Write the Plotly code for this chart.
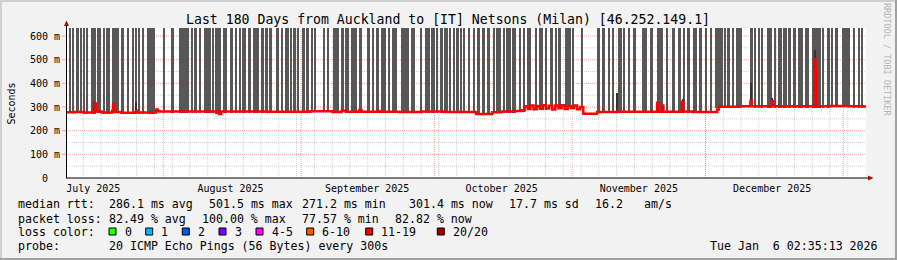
import numpy as np
import pandas as pd
import plotly.graph_objects as go

# ---------------- data ----------------
START = pd.Timestamp("2025-07-10 02:35:13")
END = pd.Timestamp("2026-01-06 02:35:13")

TITLE = "Last 180 Days from Auckland to [IT] Netsons (Milan) [46.252.149.1]"

MONTH_LABELS = ["July 2025", "August 2025", "September 2025", "October 2025",
                "November 2025", "December 2025"]
MONTH_LABEL_AT = ["2025-07-16 06:00", "2025-08-16 03:00", "2025-09-15 21:00",
                  "2025-10-16 03:00", "2025-11-16 00:00", "2025-12-16 00:00"]
MONTH_STARTS = ["2025-08-01", "2025-09-01", "2025-10-01", "2025-11-01",
                "2025-12-01", "2026-01-01"]

Y_TICKS = [0, 100, 200, 300, 400, 500, 600]
Y_TICK_TEXT = ["0\u00a0\u00a0", "100 m", "200 m", "300 m", "400 m", "500 m", "600 m"]

# smoke (loss) bars: start / end, in days since START
SMOKE_START_DAY = [
    0.83, 1.58, 2.25, 3.31, 3.83, 4.50, 5.56, 6.98, 8.26, 9.00, 9.68, 10.35, 12.38, 13.73,
    14.85, 15.53, 16.20, 17.10, 18.16, 22.05, 23.56, 25.43, 28.06, 28.80, 29.93, 31.05,
    32.85, 33.68, 35.26,
    36.00, 36.90, 38.03, 38.93, 39.60, 40.95, 42.08, 43.20, 43.88, 44.78, 45.68, 47.25,
    48.38, 49.28, 50.40, 51.08, 51.98, 53.10, 54.00, 55.13, 55.80, 57.83, 58.73, 60.08,
    61.88, 62.78, 64.13, 65.93, 67.73, 68.85, 69.75, 70.88,
    72.45, 73.35, 74.10, 75.38, 77.63, 79.88, 80.78, 82.13, 83.25, 84.15, 85.05, 86.18,
    87.08, 87.75, 88.65, 89.55, 90.45, 91.58, 92.48, 93.60, 94.73, 96.08, 96.75, 98.33,
    99.00, 100.35, 101.93, 103.05, 103.73, 105.53, 106.43, 107.78,
    108.90, 110.03, 110.70, 112.28, 113.85, 116.10, 119.48, 120.60, 121.95, 122.85,
    124.20, 125.33, 126.45, 127.58, 129.60, 131.40, 132.98, 135.23, 136.35, 137.70,
    138.83, 139.73, 141.08, 142.43, 143.78, 144.90,
    146.03, 148.05, 148.73, 149.85, 150.75, 153.90, 154.80, 155.70, 156.60, 157.73,
    159.53, 160.20, 161.33, 162.45, 163.58, 164.70, 166.28, 167.85, 170.33, 171.23,
    172.35, 173.03, 174.60, 177.08, 178.20, 178.88,
]
SMOKE_END_DAY = [
    1.19, 1.80, 2.93, 3.60, 4.28, 4.95, 6.68, 7.88, 8.62, 9.38, 9.90, 11.93, 13.05, 14.18,
    15.30, 15.98, 16.65, 17.55, 19.96, 22.28, 24.30, 27.68, 28.51, 29.48, 30.38, 32.56,
    33.30, 34.81, 35.71,
    36.23, 37.58, 38.48, 39.38, 40.50, 41.63, 42.98, 43.43, 44.55, 45.45, 46.35, 47.93,
    48.83, 50.18, 50.85, 51.75, 52.43, 53.78, 54.68, 55.58, 56.25, 58.28, 59.18, 61.43,
    62.55, 63.68, 65.48, 66.60, 68.40, 69.30, 70.43, 72.00,
    72.90, 73.90, 74.48, 77.18, 78.53, 80.10, 81.90, 83.03, 83.70, 84.83, 85.95, 86.63,
    87.53, 88.43, 89.10, 89.78, 90.90, 92.03, 93.15, 94.28, 95.40, 96.53, 97.88, 98.78,
    100.13, 101.25, 102.38, 103.28, 104.63, 105.98, 107.33, 108.23,
    109.58, 110.48, 111.38, 113.63, 114.30, 116.33, 120.15, 121.28, 122.40, 123.30,
    125.10, 125.78, 126.90, 128.25, 130.73, 132.08, 134.33, 135.45, 137.03, 138.38,
    139.28, 140.40, 141.98, 143.10, 144.23, 145.35,
    147.83, 148.50, 149.40, 150.30, 152.10, 154.58, 155.25, 156.15, 156.83, 158.85,
    159.75, 161.10, 162.23, 163.13, 164.25, 165.83, 167.18, 169.88, 170.55, 171.90,
    172.58, 173.70, 176.40, 177.53, 178.65, 179.33,
]
SMOKE_TOP_MS = 640

# median rtt (ms), step line, day offsets since START
MEDIAN_DAY = [
    0.0, 2.0, 4.0, 6.2, 6.5, 6.8, 8.0, 10.4, 10.6, 10.9, 12.5, 15.6, 15.8, 16.1, 20.3,
    20.6, 21.0, 34.2, 34.4, 34.9, 45.0, 55.0, 60.0, 62.0, 63.0, 66.0, 66.5, 70.0, 70.5,
    75.0, 80.0, 85.0, 92.3, 95.9, 98.0, 101.0, 102.6, 103.2, 103.9, 104.5, 105.2, 105.9,
    106.6, 107.3, 108.0, 108.7, 109.4, 110.1, 110.8, 111.5, 112.2, 112.9, 113.6, 114.3,
    115.0, 115.7, 116.4, 119.5, 124.0, 133.0, 133.3, 134.1, 134.4, 138.6, 138.9, 141.0,
    146.5, 146.9, 151.0, 154.0, 154.3, 158.8, 159.1, 168.4, 168.6, 168.8, 172.0, 176.0,
    179.3, 180.0,
]
MEDIAN_MS = [
    278, 279, 277, 283, 315, 281, 277, 284, 313, 279, 276, 279, 284, 277, 290,
    283, 281, 276, 270, 281, 280, 282, 279, 284, 280, 286, 280, 283, 280,
    279, 281, 279, 271, 278, 281, 283, 286, 303, 292, 306, 291, 304,
    293, 308, 294, 305, 290, 306, 295, 307, 292, 304, 296, 306,
    291, 300, 272, 279, 280, 318, 280, 306, 280, 322, 281, 279,
    290, 301, 303, 325, 303, 325, 303, 503, 465, 303, 304, 303,
    302, 301,
]

# isolated smoke spikes (day offset, top in ms)
SPIKE_DAY = [6.4, 15.8, 124.0, 133.0, 138.8, 154.1, 158.9, 168.5]
SPIKE_TOP_MS = [322, 322, 360, 322, 332, 400, 338, 540]

LOSS_LABELS = ["0", "1", "2", "3", "4-5", "6-10", "11-19", "20/20"]
LOSS_COLORS = ["#26ff00", "#00b8ff", "#0059ff", "#7e00ff", "#ff00ff", "#ff5500",
               "#ff0000", "#a10000"]

RTT_STATS = ["286.1 ms avg", "501.5 ms max", "271.2 ms min", "301.4 ms now",
             "17.7 ms sd", "16.2", "am/s"]
LOSS_STATS = ["82.49 % avg", "100.00 % max", "77.57 % min", "82.82 % now"]
PROBE_TEXT = "20 ICMP Echo Pings (56 Bytes) every 300s"
STAMP_TEXT = "Tue Jan\u00a0\u00a06 02:35:13 2026"

# ---------------- layout helpers ----------------
W, H = 897, 260
ML, MR, MT, MB = 66, 31, 28, 82
PW, PH = W - ML - MR, H - MT - MB
FONT = "DejaVu Sans Mono"
PIXEL_DAYS = 180.0 / PW   # time span of one plot pixel


def px(x):
    return (x - ML) / PW


def py(y):
    return (H - MB - y) / PH


def day_to_ts(d):
    return START + pd.to_timedelta(np.asarray(d, dtype=float), unit="D")


med_day = np.array(MEDIAN_DAY)
med_ms = np.array(MEDIAN_MS, dtype=float)


def median_at(days):
    idx = np.searchsorted(med_day, np.asarray(days), side="right") - 1
    idx = np.clip(idx, 0, len(med_ms) - 1)
    return med_ms[idx]


fig = go.Figure()

# smoke bars
s = np.array(SMOKE_START_DAY) - PIXEL_DAYS * 0.2
e = np.array(SMOKE_END_DAY) + PIXEL_DAYS * 0.2
mid = (s + e) / 2
base = median_at(mid) - 5
fig.add_trace(go.Bar(
    x=day_to_ts(mid), y=SMOKE_TOP_MS - base, base=base,
    width=(e - s) * 86400000.0,
    marker=dict(color="#575757", line=dict(width=0)),
    hoverinfo="skip",
))

# spikes
sd = np.array(SPIKE_DAY)
sbase = median_at(sd) - 6
fig.add_trace(go.Bar(
    x=day_to_ts(sd), y=np.array(SPIKE_TOP_MS) - sbase, base=sbase,
    width=[PIXEL_DAYS * 86400000.0] * len(sd),
    marker=dict(color="#333333", line=dict(width=0)),
    hoverinfo="skip",
))

# median line
fig.add_trace(go.Scatter(
    x=day_to_ts(MEDIAN_DAY), y=MEDIAN_MS, mode="lines",
    line=dict(color="#ff0000", width=2.5, shape="hv"),
    hoverinfo="skip",
))

shapes = []
MINOR = "rgba(150,150,150,0.45)"
MAJOR = "rgba(255,90,90,0.55)"
# vertical minor grid every 4 days
for d in pd.date_range("2025-07-14", "2026-01-05", freq="4D"):
    shapes.append(dict(type="line", xref="x", yref="paper", x0=d, x1=d, y0=0, y1=1,
                       line=dict(color=MINOR, width=1, dash="1px,1px"), layer="below"))
for d in MONTH_STARTS:
    shapes.append(dict(type="line", xref="x", yref="paper", x0=d, x1=d, y0=0, y1=1,
                       line=dict(color=MAJOR, width=1, dash="1px,1px"), layer="below"))
for v in range(50, 634, 50):
    col = MAJOR if v % 100 == 0 else MINOR
    shapes.append(dict(type="line", xref="paper", yref="y", x0=0,
                       x1=1, y0=v, y1=v,
                       line=dict(color=col, width=1, dash="1px,1px"), layer="below"))
    if v % 100 == 0:
        shapes.append(dict(type="line", xref="paper", yref="y", x0=px(62), x1=px(66),
                           y0=v, y1=v, line=dict(color=col, width=1), layer="above"))

# axes lines + arrows
shapes.append(dict(type="line", xref="paper", yref="paper", x0=px(66), x1=px(869),
                   y0=py(178), y1=py(178), line=dict(color="#000", width=1), layer="above"))
shapes.append(dict(type="line", xref="paper", yref="paper", x0=px(66.5), x1=px(66.5),
                   y0=py(178), y1=py(24), line=dict(color="#000", width=1), layer="above"))
shapes.append(dict(type="path", xref="paper", yref="paper",
                   path=f"M {px(868)},{py(175.5)} L {px(873.5)},{py(178)} L {px(868)},{py(180.5)} Z",
                   fillcolor="#a01010", line=dict(width=0), layer="above"))
shapes.append(dict(type="path", xref="paper", yref="paper",
                   path=f"M {px(64)},{py(26)} L {px(66.5)},{py(20.5)} L {px(69)},{py(26)} Z",
                   fillcolor="#a01010", line=dict(width=0), layer="above"))

# frame
shapes.append(dict(type="rect", xref="paper", yref="paper", x0=px(0), x1=px(897),
                   y0=py(0), y1=py(2), fillcolor="#d0d0d0", line=dict(width=0)))
shapes.append(dict(type="rect", xref="paper", yref="paper", x0=px(0), x1=px(2),
                   y0=py(0), y1=py(260), fillcolor="#d0d0d0", line=dict(width=0)))
shapes.append(dict(type="rect", xref="paper", yref="paper", x0=px(0), x1=px(897),
                   y0=py(258), y1=py(260), fillcolor="#a0a0a0", line=dict(width=0)))
shapes.append(dict(type="rect", xref="paper", yref="paper", x0=px(895), x1=px(897),
                   y0=py(0), y1=py(260), fillcolor="#a0a0a0", line=dict(width=0)))

annotations = []


def text(x, y, t, size=11.6, anchor="left", color="#000", angle=0):
    annotations.append(dict(xref="paper", yref="paper", x=px(x), y=py(y), text=t,
                            showarrow=False, xanchor=anchor, yanchor="middle",
                            textangle=angle,
                            font=dict(family=FONT, size=size, color=color)))


text(448, 19.5, TITLE, size=13.2, anchor="center")
text(10.5, 103, "Seconds", size=10, anchor="center", angle=-90)
text(887, 59, "RRDTOOL / TOBI OETIKER", size=8.5, anchor="center", color="#b4b4b4", angle=90)

# legend rows
ROW1, ROW2, ROW3, ROW4 = 204, 218.5, 232, 246
text(16, ROW1, "median rtt:")
for x, t in zip([107.3, 207.3, 300, 407.3, 507.3, 593.3, 642.3], RTT_STATS):
    text(x, ROW1, t)
text(16, ROW2, "packet loss:")
for x, t in zip([107.3, 200, 300, 393.3], LOSS_STATS):
    text(x, ROW2, t)
text(16, ROW3, "loss color:")
sw_x = [109, 145.7, 182.3, 219, 256, 306.7, 365.7, 437.3]
for x, lab, col in zip(sw_x, LOSS_LABELS, LOSS_COLORS):
    shapes.append(dict(type="rect", xref="paper", yref="paper", x0=px(x), x1=px(x + 7),
                       y0=py(235), y1=py(228), fillcolor=col,
                       line=dict(color="#000", width=1)))
    text(x + 13.5, ROW3, lab)
text(16, ROW4, "probe:")
text(107.3, ROW4, PROBE_TEXT)
text(880, ROW4, STAMP_TEXT, anchor="right")

fig.update_layout(
    width=W, height=H, autosize=False,
    margin=dict(l=ML, r=MR, t=MT, b=MB, pad=0),
    paper_bgcolor="#f2f2f2", plot_bgcolor="#ffffff",
    showlegend=False, barmode="overlay", bargap=0,
    font=dict(family=FONT, size=10, color="#000"),
    xaxis=dict(type="date", range=[START, END], tickvals=MONTH_LABEL_AT,
               ticktext=MONTH_LABELS, showgrid=False, zeroline=False, showline=False,
               ticks="", ticklabelstandoff=3,
               tickfont=dict(family=FONT, size=10, color="#000"),
               fixedrange=True),
    yaxis=dict(range=[0, 634], tickvals=Y_TICKS, ticktext=Y_TICK_TEXT, showgrid=False,
               zeroline=False, showline=False, ticks="outside", ticklen=3,
               tickcolor="rgba(0,0,0,0)",
               tickfont=dict(family=FONT, size=10, color="#000"), fixedrange=True),
    shapes=shapes, annotations=annotations,
)

fig.write_html("out.html")
